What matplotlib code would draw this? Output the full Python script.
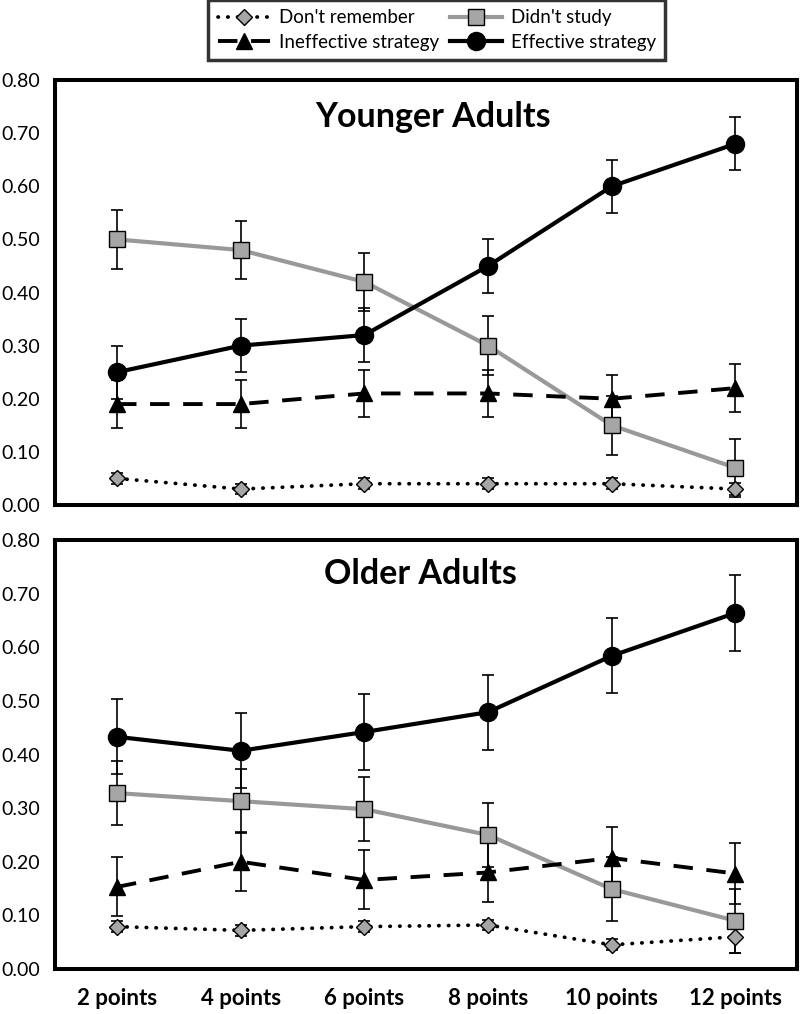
import matplotlib
matplotlib.use("Agg")
import matplotlib.pyplot as plt
from matplotlib.lines import Line2D

plt.rcParams['font.family'] = ['Lato', 'DejaVu Sans']

categories = ["2 points", "4 points", "6 points", "8 points", "10 points", "12 points"]
series_names = ["Don't remember", "Didn't study", "Ineffective strategy", "Effective strategy"]

# Younger adults: means and error half-widths
young_dont = [0.05, 0.03, 0.04, 0.04, 0.04, 0.03]
young_dont_err = [0.01, 0.01, 0.01, 0.01, 0.01, 0.012]
young_study = [0.50, 0.48, 0.42, 0.30, 0.15, 0.07]
young_study_err = [0.055, 0.055, 0.055, 0.055, 0.055, 0.055]
young_ineff = [0.19, 0.19, 0.21, 0.21, 0.20, 0.22]
young_ineff_err = [0.045, 0.045, 0.045, 0.045, 0.045, 0.045]
young_eff = [0.25, 0.30, 0.32, 0.45, 0.60, 0.68]
young_eff_err = [0.05, 0.05, 0.05, 0.05, 0.05, 0.05]

# Older adults
old_dont = [0.079, 0.072, 0.079, 0.082, 0.045, 0.060]
old_dont_err = [0.01, 0.01, 0.01, 0.01, 0.01, 0.03]
old_study = [0.328, 0.313, 0.298, 0.250, 0.149, 0.090]
old_study_err = [0.06, 0.06, 0.06, 0.06, 0.06, 0.06]
old_ineff = [0.153, 0.200, 0.166, 0.180, 0.207, 0.178]
old_ineff_err = [0.055, 0.055, 0.055, 0.055, 0.058, 0.057]
old_eff = [0.433, 0.407, 0.442, 0.479, 0.584, 0.664]
old_eff_err = [0.07, 0.07, 0.07, 0.07, 0.07, 0.07]

yticks = [0.0, 0.1, 0.2, 0.3, 0.4, 0.5, 0.6, 0.7, 0.8]

GRAY = "#a6a6a6"
styles = [
    dict(color="black", lw=2.7, ls=(0, (0.1, 2.5)), dash_capstyle="round",
         marker="D", ms=8, mfc=GRAY, mec="black", mew=1.0),
    dict(color="#999999", lw=3.0, ls="-",
         marker="s", ms=11, mfc=GRAY, mec="black", mew=1.0),
    dict(color="black", lw=2.8, ls=(0, (5, 3.5)),
         marker="^", ms=11, mfc="black", mec="black"),
    dict(color="black", lw=3.0, ls="-",
         marker="o", ms=13, mfc="black", mec="black"),
]

fig = plt.figure(figsize=(8, 10.14), dpi=100)
ax_top = fig.add_axes([0.069, 0.502, 0.9275, 0.419])
ax_bot = fig.add_axes([0.069, 0.0444, 0.9275, 0.423])

x = list(range(len(categories)))


def draw_panel(ax, data, title, title_x, title_y):
    for (vals, errs), st in zip(data, styles):
        ax.errorbar(x, vals, yerr=errs, fmt="none", ecolor="black",
                    elinewidth=1.2, capsize=4, capthick=1.2, zorder=2)
        ax.plot(x, vals, zorder=3, **st)
    ax.set_xlim(-0.5, 5.5)
    ax.set_ylim(0, 0.8)
    ax.set_yticks(yticks)
    ax.set_yticklabels([f"{v:.2f}" for v in yticks])
    ax.tick_params(axis="y", length=0, pad=39, labelsize=14)
    for lab in ax.get_yticklabels():
        lab.set_horizontalalignment("left")
    for sp in ax.spines.values():
        sp.set_linewidth(2.9)
        sp.set_color("black")
    ax.text(title_x, title_y, title, transform=ax.transAxes, ha="center",
            va="center", fontsize=24.5, fontweight="bold")


draw_panel(ax_top, [(young_dont, young_dont_err), (young_study, young_study_err),
                    (young_ineff, young_ineff_err), (young_eff, young_eff_err)],
           "Younger Adults", 0.509, 0.912)
draw_panel(ax_bot, [(old_dont, old_dont_err), (old_study, old_study_err),
                    (old_ineff, old_ineff_err), (old_eff, old_eff_err)],
           "Older Adults", 0.492, 0.922)

ax_top.set_xticks(x)
ax_top.tick_params(axis="x", length=0, labelbottom=False)
ax_bot.set_xticks(x)
ax_bot.set_xticklabels(categories, fontweight="bold", fontsize=16)
ax_bot.tick_params(axis="x", length=0, pad=14)

handles = [Line2D([], [], **st) for st in styles]
order = [0, 2, 1, 3]
leg = fig.legend([handles[i] for i in order], [series_names[i] for i in order],
                 loc="upper center", bbox_to_anchor=(0.546, 1.0), ncol=2,
                 fontsize=13.5, frameon=True, fancybox=False, edgecolor="black",
                 handlelength=2.8, columnspacing=0.6, handletextpad=0.45,
                 borderpad=0.5, labelspacing=0.4, borderaxespad=0)
leg.get_frame().set_linewidth(2.5)

fig.savefig("out.png", dpi=100)
